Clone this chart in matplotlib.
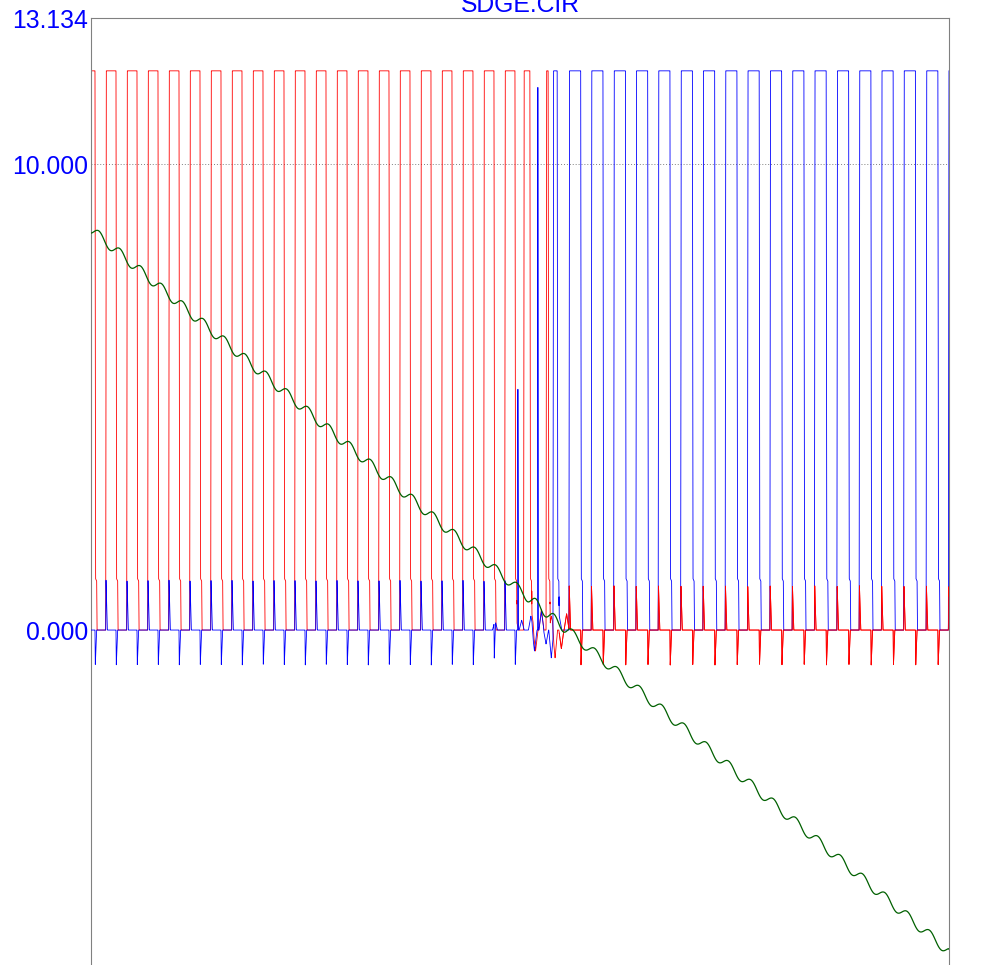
import numpy as np
import matplotlib
matplotlib.use('Agg')
import matplotlib.pyplot as plt

plt.rcParams['font.family'] = ['Liberation Sans', 'DejaVu Sans']
plt.rcParams['path.simplify'] = False

# ---- data (time in us, values in V) ----
t_end = 40.86
y_top = 13.134
y_bottom = -7.5

# red square wave: rising edges and high widths
red_rise = [-0.30, 0.70, 1.70, 2.70, 3.70, 4.70, 5.70, 6.70, 7.70, 8.70, 9.70,
            10.70, 11.70, 12.70, 13.70, 14.70, 15.70, 16.70, 17.70, 18.70,
            19.70, 20.60, 21.67]
red_width = [0.49, 0.49, 0.49, 0.49, 0.49, 0.49, 0.49, 0.49, 0.49, 0.49, 0.49,
             0.49, 0.49, 0.49, 0.49, 0.49, 0.49, 0.49, 0.49, 0.49,
             0.49, 0.30, 0.10]

# blue square wave
blue_rise = [22.00, 22.76, 23.82, 24.89, 25.95, 27.01, 28.08, 29.14, 30.20,
             31.26, 32.33, 33.39, 34.45, 35.52, 36.58, 37.64, 38.70, 39.77, 40.83]
blue_width = [0.20, 0.56, 0.56, 0.56, 0.56, 0.56, 0.56, 0.56, 0.56,
              0.56, 0.56, 0.56, 0.56, 0.56, 0.56, 0.56, 0.56, 0.56, 0.56]

high_level = 12.0
kick_up_blue = 1.07
kick_up_red = 0.95
kick_down = -0.75

# glitches around the switch-over
blue_glitch_t = [20.33, 21.28]
blue_glitch_v = [5.25, 11.85]
blue_ring_t = [19.24, 20.51, 20.95, 21.12, 21.45, 21.67, 21.92, 22.30]
blue_ring_v = [0.21, 0.21, 0.30, -0.45, 0.40, -0.30, -0.60, 0.30]
red_ring_t = [20.24, 20.98, 21.17, 21.45, 21.93, 22.10, 22.40, 22.65]
red_ring_v = [0.25, 0.40, -0.45, 0.45, 0.30, -0.60, -0.40, 0.35]

# green ramp (integrator)
green_start = 8.60
green_end = -6.90
green_ripple = 0.107

t = np.linspace(0, t_end, 24000)


def pulse(r, w, h):
    xs = [r, r + 0.03, r + w, r + w + 0.03, r + w + 0.08, r + w + 0.10]
    ys = [0, h, h, 1.1, 1.05, 0]
    return np.interp(t, xs, ys, left=0, right=0)


def spike(t0, a, w=0.08):
    return np.interp(t, [t0, t0 + 0.015, t0 + w], [0, a, 0], left=0, right=0)


def bump(t0, a, hw=0.12):
    return np.interp(t, [t0 - hw, t0, t0 + hw], [0, a, 0], left=0, right=0)


red_sq = np.zeros_like(t)
red_small = np.zeros_like(t)
blue_sq = np.zeros_like(t)
blue_small = np.zeros_like(t)

for i, (r, w) in enumerate(zip(red_rise, red_width)):
    red_sq += pulse(r, w, high_level)
    if i < 21:
        blue_small += spike(r, kick_up_blue)
        blue_small += spike(r + w, kick_down)

for i, (r, w) in enumerate(zip(blue_rise, blue_width)):
    blue_sq += pulse(r, w, high_level)
    if i > 0:
        red_small += spike(r, kick_up_red)
        red_small += spike(r + w, kick_down)

for tg, vg in zip(blue_glitch_t, blue_glitch_v):
    blue_sq += np.interp(t, [tg - 0.01, tg, tg + 0.025], [0, vg, 0], left=0, right=0)
for tb, vb in zip(blue_ring_t, blue_ring_v):
    blue_small += bump(tb, vb)
for tb, vb in zip(red_ring_t, red_ring_v):
    red_small += bump(tb, vb)

red = np.where(red_sq > 0.5, np.minimum(red_sq, high_level), red_sq + red_small)
blue = np.where(blue_sq > 0.5, np.minimum(blue_sq, high_level), blue_sq + blue_small)

cyc_t = [red_rise[0], red_rise[21], blue_rise[1], blue_rise[-1]]
cyc_n = [0, 21, 23.52, 40.52]
phase = np.interp(t, cyc_t, cyc_n)
green = green_start + (green_end - green_start) * t / t_end \
    + green_ripple * np.sin(2 * np.pi * (phase - 0.44))

# ---- figure ----
fig = plt.figure(figsize=(9.86, 9.65), dpi=100)
top = 1 - 18 / 965
height = (y_top - y_bottom) * 46.6 / 965
ax = fig.add_axes([91 / 986, top - height, (949 - 91) / 986, height])

ax.axhline(10, color='#808080', lw=0.7, ls=(0, (1, 2)), zorder=1)
ax.plot(t, red, color='#ff0000', lw=0.6, zorder=2)
ax.plot(t, blue, color='#0000ff', lw=0.6, zorder=3)
late = t > 22.3
ax.plot(t[late], red[late], color='#ff0000', lw=0.6, zorder=4)
ax.plot(t, green, color='#006000', lw=0.9, zorder=5)

ax.set_xlim(0, t_end)
ax.set_ylim(y_bottom, y_top)
ax.set_xticks([])
ax.set_yticks([0, 10, y_top])
ax.set_yticklabels(['0.000', '10.000', '13.134'])
ax.tick_params(axis='y', length=0, pad=2.2, labelsize=17.8, labelcolor='#0000ff')
for s in ax.spines.values():
    s.set_color('#808080')
    s.set_linewidth(0.8)

fig.text(520 / 986, 1 - 12 / 965, 'SDGE.CIR', ha='center', va='baseline',
         fontsize=17.8, color='#0000ff')

fig.savefig('out.png', dpi=100)
